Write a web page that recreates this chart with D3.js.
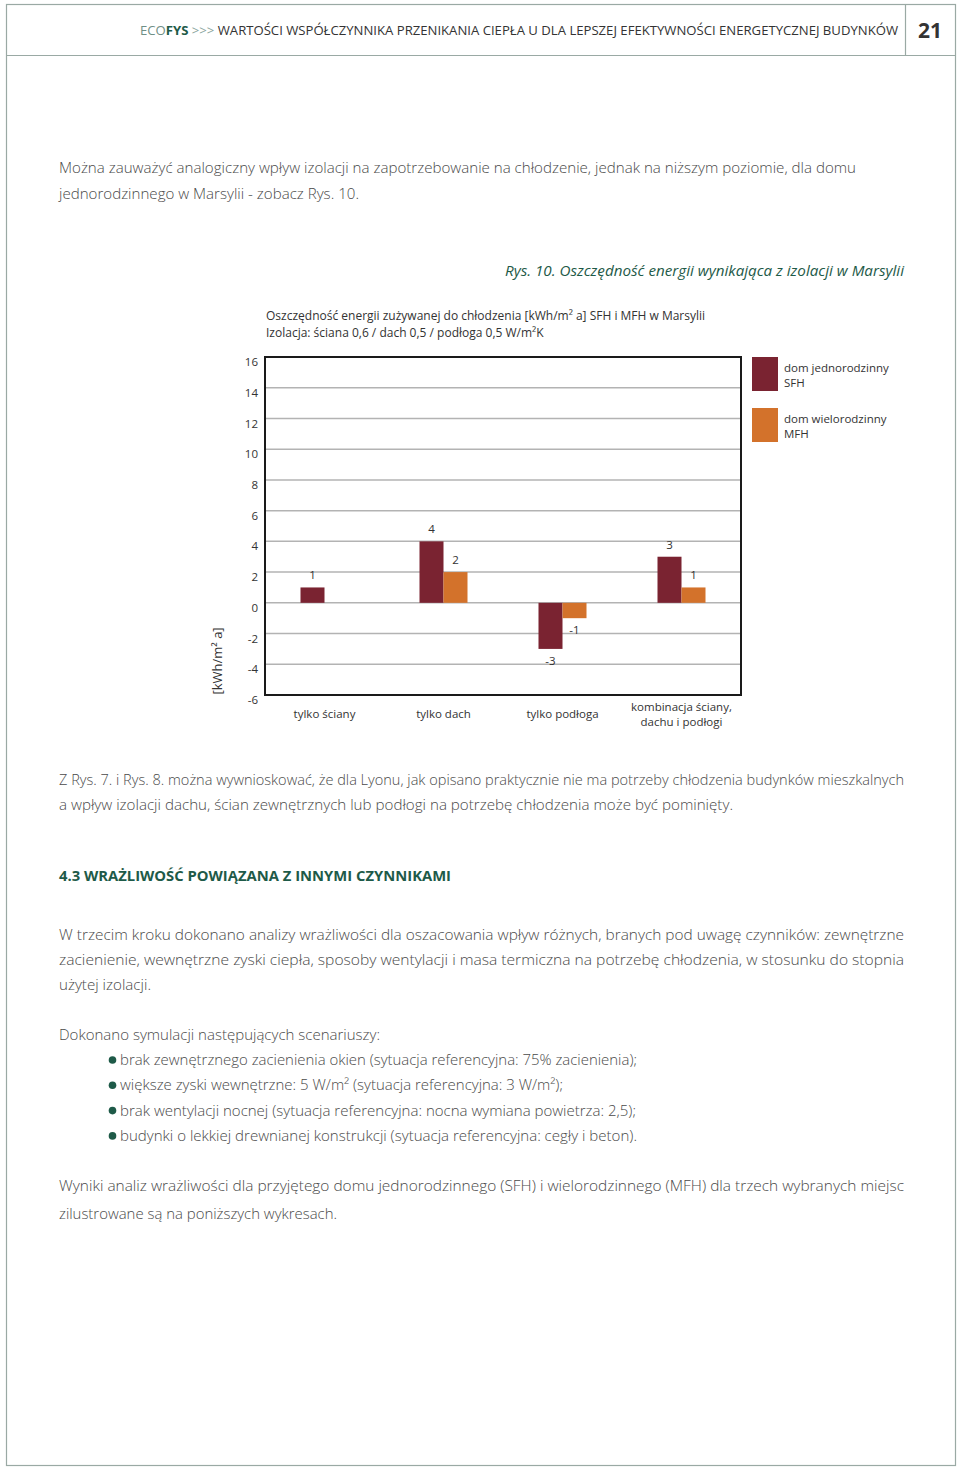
<!DOCTYPE html>
<html><head><meta charset="utf-8">
<script src="https://cdn.jsdelivr.net/npm/d3@7"></script>
<style>
body{margin:0;background:#fff;}
svg{display:block;}
</style></head>
<body>
<script>
const categories = ["tylko ściany", "tylko dach", "tylko podłoga", "kombinacja ściany,|dachu i podłogi"];
const seriesNames = ["dom jednorodzinny|SFH", "dom wielorodzinny|MFH"];
const sfhValues = [1, 4, -3, 3];
const mfhValues = [0, 2, -1, 1];
const yTickValues = [-6, -4, -2, 0, 2, 4, 6, 8, 10, 12, 14, 16];
const chartTitle = ["Oszczędność energii zużywanej do chłodzenia [kWh/m² a] SFH i MFH w Marsylii", "Izolacja: ściana 0,6 / dach 0,5 / podłoga 0,5 W/m²K"];
const yAxisTitle = "[kWh/m² a]";

const W = 960, H = 1468;
const colors = ["#7a2331", "#d3722b"];
const green = "#1e5a48";
const textCol = "#4a4a4a";
const bodyFont = "'Open Sans', 'Noto Sans', sans-serif";
const fmt = v => String(v);

const svg = d3.select("body").append("svg").attr("width", W).attr("height", H);

// page frame
const frameCol = "#9aa9a4";
svg.append("rect").attr("x", 6.5).attr("y", 4.5).attr("width", 949).attr("height", 1461)
  .attr("fill", "none").attr("stroke", frameCol).attr("stroke-width", 1.2);
svg.append("line").attr("x1", 6).attr("x2", 956).attr("y1", 55.5).attr("y2", 55.5).attr("stroke", frameCol).attr("stroke-width", 1.2);
svg.append("line").attr("x1", 905.5).attr("x2", 905.5).attr("y1", 4).attr("y2", 55).attr("stroke", frameCol).attr("stroke-width", 1.2);

// header
const ht = svg.append("text").attr("x", 140).attr("y", 35).attr("font-family", bodyFont)
  .attr("font-size", 13).attr("textLength", 758).attr("lengthAdjust", "spacingAndGlyphs");
ht.append("tspan").attr("fill", "#6f8f86").text("ECO");
ht.append("tspan").attr("fill", green).attr("font-weight", "bold").text("FYS");
ht.append("tspan").attr("fill", "#8aa59d").text(" >>> ");
ht.append("tspan").attr("fill", "#333").text("WARTOŚCI WSPÓŁCZYNNIKA PRZENIKANIA CIEPŁA U DLA LEPSZEJ EFEKTYWNOŚCI ENERGETYCZNEJ BUDYNKÓW");
svg.append("text").attr("x", 930).attr("y", 38).attr("text-anchor", "middle").attr("font-family", bodyFont)
  .attr("font-weight", "bold").attr("font-size", 21).attr("fill", "#333").text("21");

// body text helper
function line(txt, x, y, len, opts = {}) {
  const t = svg.append("text").attr("x", x).attr("y", y).attr("font-family", bodyFont)
    .attr("font-size", opts.size || 15).attr("fill", opts.fill || textCol)
    .attr("font-weight", opts.weight || 300);
  if (len) t.attr("textLength", len).attr("lengthAdjust", "spacingAndGlyphs");
  if (opts.anchor) t.attr("text-anchor", opts.anchor);
  if (opts.italic) t.attr("font-style", "italic");
  t.text(txt);
  return t;
}
line("Można zauważyć analogiczny wpływ izolacji na zapotrzebowanie na chłodzenie, jednak na niższym poziomie, dla domu", 59, 173, 797);
line("jednorodzinnego w Marsylii - zobacz  Rys. 10.", 59, 199, 300);
line("Rys. 10. Oszczędność energii wynikająca z izolacji w Marsylii", 505, 276, 399, {fill: green, italic: true, size: 15, weight: 400});

line("Z Rys. 7. i Rys. 8. można wywnioskować, że dla Lyonu, jak opisano praktycznie nie ma potrzeby chłodzenia budynków mieszkalnych", 59, 785, 845);
line("a wpływ izolacji dachu, ścian zewnętrznych lub podłogi na potrzebę chłodzenia może być pominięty.", 59, 810, 674);
line("4.3 WRAŻLIWOŚĆ POWIĄZANA Z INNYMI CZYNNIKAMI", 59, 881, 392, {fill: green, weight: 700, size: 15});
line("W trzecim kroku dokonano analizy wrażliwości dla oszacowania wpływ różnych, branych pod uwagę czynników: zewnętrzne", 59, 940, 845);
line("zacienienie, wewnętrzne zyski ciepła, sposoby wentylacji i masa termiczna na potrzebę chłodzenia, w stosunku do stopnia", 59, 965, 845);
line("użytej izolacji.", 59, 990, 92);
line("Dokonano symulacji następujących scenariuszy:", 59, 1040, 321);
const bullets = [
  ["brak zewnętrznego zacienienia okien (sytuacja referencyjna: 75% zacienienia);", 517],
  ["większe zyski wewnętrzne: 5 W/m² (sytuacja referencyjna: 3 W/m²);", 443],
  ["brak wentylacji nocnej (sytuacja referencyjna: nocna wymiana powietrza: 2,5);", 516],
  ["budynki o lekkiej drewnianej konstrukcji (sytuacja referencyjna: cegły i beton).", 517]
];
bullets.forEach((b, i) => {
  const y = 1065 + i * 25.3;
  svg.append("circle").attr("cx", 112.5).attr("cy", y - 5).attr("r", 3.8).attr("fill", green);
  line(b[0], 120, y, b[1]);
});
line("Wyniki analiz wrażliwości dla przyjętego domu jednorodzinnego (SFH) i wielorodzinnego (MFH) dla trzech wybranych miejsc", 59, 1191, 845);
line("zilustrowane są na poniższych wykresach.", 59, 1219, 278);

// ---------- chart ----------
const chartFont = "'Open Sans', 'Noto Sans', sans-serif";
const plot = {left: 265, right: 741, top: 357, bottom: 695};
const y = d3.scaleLinear().domain([-6, 16]).range([plot.bottom, plot.top]);
const x0 = d3.scaleBand().domain(categories).range([plot.left, plot.right]).padding(0);
const x1 = d3.scaleBand().domain([0, 1]).range([0, x0.bandwidth()]).paddingInner(0).paddingOuter(1.479);

const g = svg.append("g");

// title
chartTitle.forEach((t, i) => {
  g.append("text").attr("x", 266).attr("y", 320 + i * 16.5).attr("font-family", chartFont)
    .attr("font-size", 12).attr("fill", "#333").text(t);
});

// grid
g.append("g").selectAll("line").data(yTickValues.filter(v => v > -6 && v < 16)).join("line")
  .attr("x1", plot.left).attr("x2", plot.right)
  .attr("y1", d => y(d)).attr("y2", d => y(d))
  .attr("stroke", "#b3b3b3").attr("stroke-width", 1.5);

// y axis labels
const yAxis = d3.axisLeft(y).tickValues(yTickValues).tickSize(0).tickPadding(7).tickFormat(fmt);
const ya = g.append("g").attr("transform", `translate(${plot.left},0)`).call(yAxis);
ya.select(".domain").remove();
ya.selectAll("text").attr("font-family", chartFont).attr("font-size", 11.5).attr("fill", "#333").attr("dy", "0.75em");

// bars
const data = categories.map((c, i) => ({cat: c, vals: [sfhValues[i], mfhValues[i]]}));
const groups = g.append("g").selectAll("g").data(data).join("g")
  .attr("transform", d => `translate(${x0(d.cat)},0)`);
groups.selectAll("rect").data(d => d.vals.map((v, j) => ({v, j}))).join("rect")
  .attr("x", d => x1(d.j)).attr("width", x1.bandwidth())
  .attr("y", d => y(Math.max(0, d.v))).attr("height", d => Math.abs(y(d.v) - y(0)))
  .attr("fill", d => colors[d.j]);
groups.selectAll("text.val").data(d => d.vals.map((v, j) => ({v, j})).filter(e => e.v !== 0)).join("text")
  .attr("class", "val")
  .attr("x", d => x1(d.j) + x1.bandwidth() / 2)
  .attr("y", d => d.v > 0 ? y(d.v) - 8 : y(d.v) + 16)
  .attr("text-anchor", "middle").attr("font-family", chartFont).attr("font-size", 11.5).attr("fill", "#333")
  .text(d => fmt(d.v));

// frame
g.append("rect").attr("x", plot.left).attr("y", plot.top).attr("width", plot.right - plot.left)
  .attr("height", plot.bottom - plot.top).attr("fill", "none").attr("stroke", "#1a1a1a").attr("stroke-width", 2);

// x labels
const xl = g.append("g").selectAll("text").data(categories).join("text")
  .attr("text-anchor", "middle").attr("font-family", chartFont).attr("font-size", 11.5).attr("fill", "#333")
  .attr("x", d => x0(d) + x0.bandwidth() / 2)
  .attr("y", d => d.includes("|") ? 711 : 718);
xl.each(function(d) {
  const parts = d.split("|");
  d3.select(this).selectAll("tspan").data(parts).join("tspan")
    .attr("x", x0(d) + x0.bandwidth() / 2).attr("dy", (p, i) => i === 0 ? 0 : 15).text(p => p);
});

// y title
g.append("text").attr("transform", "translate(222,661) rotate(-90)").attr("text-anchor", "middle")
  .attr("font-family", chartFont).attr("font-size", 13).attr("fill", "#333").text(yAxisTitle);

// legend
const leg = g.append("g").selectAll("g").data(seriesNames).join("g")
  .attr("transform", (d, i) => `translate(752,${357 + i * 51})`);
leg.append("rect").attr("width", 26).attr("height", 34).attr("fill", (d, i) => colors[i]);
leg.append("text").attr("x", 32).attr("y", 15).attr("font-family", chartFont).attr("font-size", 11.5).attr("fill", "#333")
  .selectAll("tspan").data(d => d.split("|")).join("tspan")
  .attr("x", 32).attr("dy", (p, i) => i === 0 ? 0 : 15).text(p => p);
</script>
</body></html>
